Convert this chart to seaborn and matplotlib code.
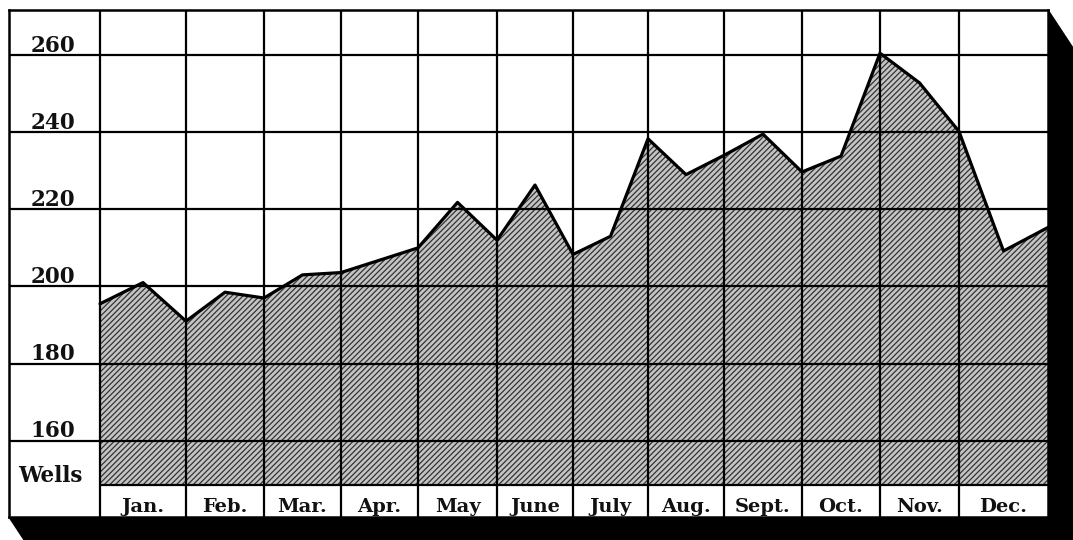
import numpy as np
import pandas as pd
import matplotlib
matplotlib.use("Agg")
import matplotlib.pyplot as plt
from matplotlib.patches import Polygon
import seaborn as sns

# monthly well counts, read at the start and middle of each month
months = ["Jan.", "Feb.", "Mar.", "Apr.", "May", "June",
          "July", "Aug.", "Sept.", "Oct.", "Nov.", "Dec."]
month_pos = np.arange(0, 12.5, 0.5)
wells = [195.5, 201.0, 191.0, 198.5, 197.0, 203.0, 203.6, 206.8, 210.0,
         221.8, 212.0, 226.3, 208.3, 213.0, 238.3, 229.0, 234.0, 239.5,
         229.7, 233.8, 260.5, 252.8, 240.2, 209.2, 215.3]
y_ticks = [160, 180, 200, 220, 240, 260]

df = pd.DataFrame({"month": month_pos, "wells": wells})

sns.set_theme(style="white")
plt.rcParams["font.family"] = ["DejaVu Serif", "DejaVu Sans"]
plt.rcParams["hatch.linewidth"] = 0.9

W, H = 1073, 540
fig = plt.figure(figsize=(W / 100, H / 100), dpi=100)
fig.patch.set_facecolor("white")


def fx(px):
    return px / W


def fy(py):
    return 1 - py / H


# frame and its drop shadow (pixel layout of the printed chart)
left, top, right, bottom = 9, 10, 1048, 517
dx, dy = 25, 38
shadow = Polygon(
    [(fx(right), fy(top)), (fx(right + dx), fy(top + dy)),
     (fx(right + dx), fy(bottom + dy)), (fx(left + dx), fy(bottom + dy)),
     (fx(left), fy(bottom)), (fx(right), fy(bottom))],
    closed=True, transform=fig.transFigure, facecolor="black",
    edgecolor="black", zorder=0)
fig.add_artist(shadow)

ax = fig.add_axes([fx(left), fy(bottom), (right - left) / W, (bottom - top) / H])
ax.set_facecolor("white")

sns.lineplot(data=df, x="month", y="wells", color="black", lw=2.3,
             ax=ax, zorder=5)

base = 148.5
ax.fill_between(df["month"], df["wells"], base, facecolor="#c4c4c4",
                edgecolor="#333333", hatch="//////", linewidth=0, zorder=2)

# uneven month widths as printed: first and last month slightly wider
knots = np.arange(-1, 13)
edges_px = [9, 100, 186, 264, 341, 418, 497, 573, 648, 724, 802, 880, 959, 1048]
ax.set_xscale("function",
              functions=(lambda x: np.interp(x, knots, edges_px),
                         lambda p: np.interp(p, edges_px, knots)))
ax.set_xlim(-1, 12)
ax.set_ylim(140.2, 271.7)
ax.set_xticks([])
ax.set_yticks([])
ax.set_xlabel("")
ax.set_ylabel("")

for v in y_ticks:
    ax.axhline(v, color="black", lw=1.6, zorder=3)
    ax.text(-0.52, v + 0.9, str(v), ha="center", va="baseline",
            fontsize=15.5, fontweight="bold", color="#111111", zorder=6)
ax.hlines(base, 0, 12, color="black", lw=1.6, zorder=3)
for k in range(0, 12):
    ax.axvline(k, color="black", lw=1.6, zorder=3)

ax.text(-0.55, 149.4, "Wells", ha="center", va="baseline",
        fontsize=15.5, fontweight="bold", color="#111111", zorder=6)
for i, m in enumerate(months):
    ax.text(i + 0.5, 141.5, m, ha="center", va="baseline",
            fontsize=14, fontweight="bold", color="#111111", zorder=6)

for s in ax.spines.values():
    s.set_visible(True)
    s.set_color("black")
    s.set_linewidth(1.8)

fig.savefig("out.png", dpi=100, facecolor="white")
